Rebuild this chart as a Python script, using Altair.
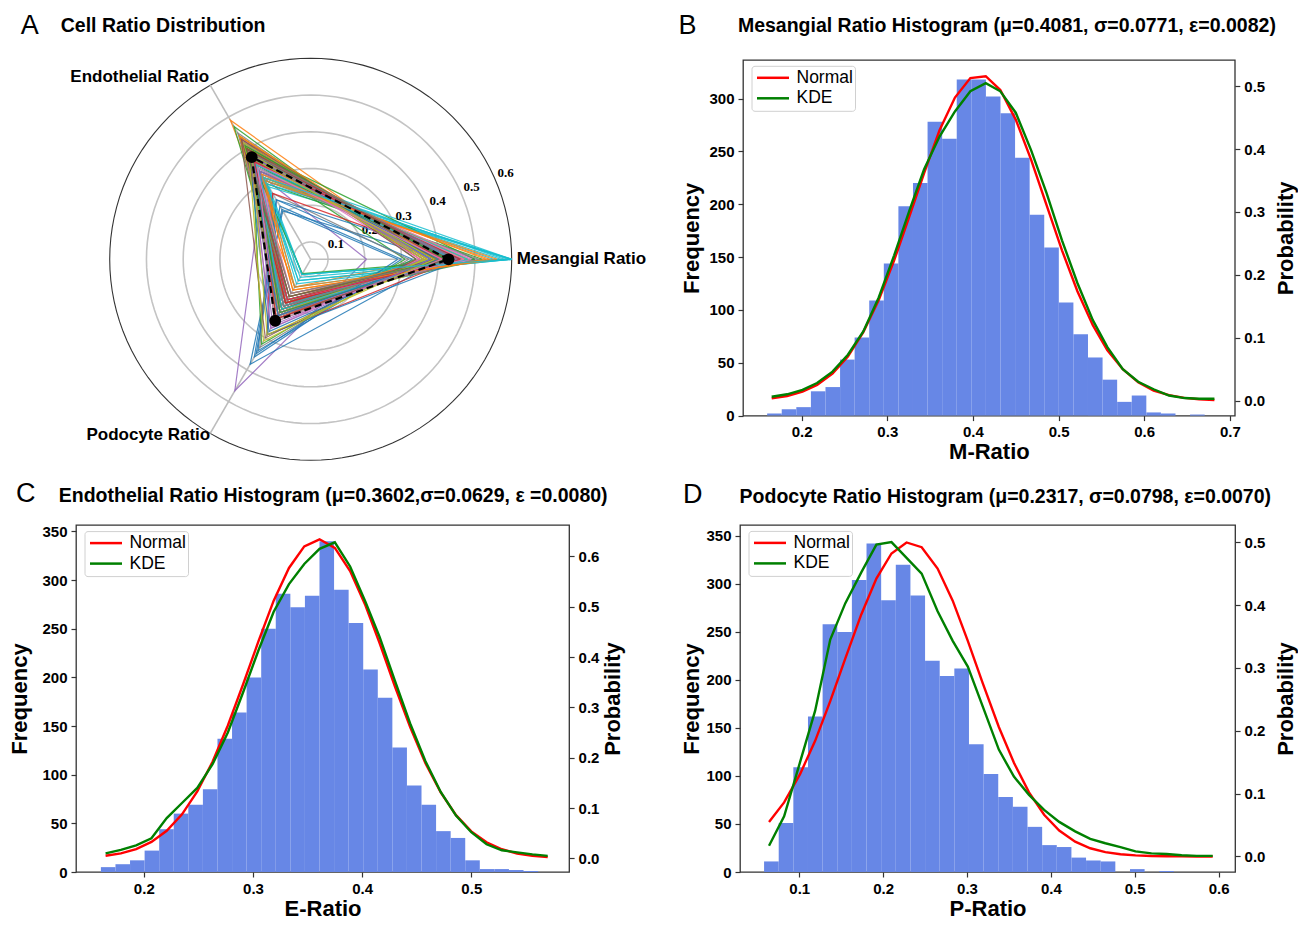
import altair as alt
import pandas as pd

FONT = "Liberation Sans"
SERIF = "Liberation Serif"
BAR_COLOR = "#6787e6"
SERIES = ["Normal", "KDE"]
SERIES_COLORS = ["#ff0000", "#008000"]

# ---------------- Panel A : radar ----------------
AXIS_NAMES = ["Mesangial Ratio", "Endothelial Ratio", "Podocyte Ratio"]
AXIS_ANGLES = [0, 120, 240]
RING_VALUES = [0.1, 0.2, 0.3, 0.4, 0.5]
RADIAL_TICKS = [0.1, 0.2, 0.3, 0.4, 0.5, 0.6]
R_INNER = 0.0529
R_OUTER = 0.6

SAMPLE_M = [0.41, 0.45, 0.38, 0.43, 0.205, 0.44, 0.47, 0.36, 0.41, 0.62,
            0.43, 0.39, 0.46, 0.35, 0.50, 0.42, 0.37, 0.44, 0.48, 0.60,
            0.30, 0.37, 0.52, 0.40, 0.38, 0.45, 0.43, 0.36, 0.47, 0.58,
            0.41, 0.44, 0.31, 0.40, 0.46, 0.37, 0.49, 0.41, 0.43, 0.55,
            0.33, 0.45, 0.34, 0.42, 0.48, 0.38, 0.44, 0.32, 0.36, 0.61,
            0.43, 0.41, 0.50, 0.45, 0.45, 0.39, 0.42, 0.51, 0.37, 0.57,
            0.47, 0.44, 0.40, 0.46, 0.38, 0.43, 0.35, 0.42, 0.48, 0.60,
            0.29, 0.39,
            0.40, 0.42, 0.44, 0.39, 0.46, 0.41, 0.43, 0.38, 0.45, 0.47,
            0.42, 0.40, 0.36, 0.44, 0.49, 0.41, 0.37, 0.43, 0.46, 0.53,
            0.39, 0.42, 0.45, 0.34, 0.41, 0.44, 0.40, 0.48, 0.38, 0.56,
            0.43, 0.41, 0.45, 0.39, 0.47, 0.42, 0.36, 0.44, 0.40, 0.54,
            0.42, 0.46, 0.38, 0.43, 0.41, 0.45, 0.39, 0.59]
SAMPLE_E = [0.36, 0.34, 0.39, 0.37, 0.31, 0.40, 0.33, 0.40, 0.35, 0.28,
            0.38, 0.42, 0.32, 0.44, 0.31, 0.36, 0.43, 0.37, 0.34, 0.30,
            0.22, 0.49, 0.29, 0.38, 0.41, 0.35, 0.33, 0.45, 0.31, 0.32,
            0.205, 0.36, 0.37, 0.40, 0.34, 0.42, 0.32, 0.38, 0.35, 0.31,
            0.24, 0.36, 0.47, 0.37, 0.33, 0.40, 0.34, 0.26, 0.41, 0.29,
            0.36, 0.38, 0.40, 0.26, 0.35, 0.42, 0.37, 0.30, 0.44, 0.30,
            0.24, 0.38, 0.35, 0.37, 0.36, 0.39, 0.38, 0.34, 0.36, 0.33,
            0.21, 0.44,
            0.37, 0.35, 0.39, 0.41, 0.36, 0.39, 0.34, 0.42, 0.37, 0.35,
            0.40, 0.36, 0.42, 0.33, 0.35, 0.37, 0.41, 0.38, 0.36, 0.32,
            0.40, 0.39, 0.33, 0.43, 0.36, 0.38, 0.42, 0.34, 0.39, 0.30,
            0.35, 0.40, 0.37, 0.43, 0.35, 0.38, 0.39, 0.35, 0.37, 0.31,
            0.41, 0.36, 0.38, 0.40, 0.34, 0.39, 0.37, 0.31]
SAMPLE_P = [0.23, 0.21, 0.23, 0.20, 0.466, 0.16, 0.20, 0.24, 0.24, 0.10,
            0.19, 0.19, 0.22, 0.21, 0.19, 0.22, 0.20, 0.19, 0.18, 0.12,
            0.36, 0.14, 0.19, 0.22, 0.21, 0.20, 0.24, 0.19, 0.22, 0.10,
            0.383, 0.20, 0.32, 0.20, 0.20, 0.21, 0.19, 0.21, 0.22, 0.14,
            0.34, 0.19, 0.19, 0.21, 0.19, 0.22, 0.22, 0.33, 0.23, 0.11,
            0.21, 0.21, 0.098, 0.29, 0.20, 0.19, 0.21, 0.19, 0.19, 0.13,
            0.29, 0.18, 0.25, 0.17, 0.26, 0.18, 0.27, 0.24, 0.16, 0.12,
            0.35, 0.17,
            0.23, 0.23, 0.17, 0.20, 0.18, 0.20, 0.23, 0.20, 0.18, 0.18,
            0.18, 0.24, 0.22, 0.23, 0.16, 0.22, 0.22, 0.19, 0.18, 0.15,
            0.21, 0.19, 0.22, 0.30, 0.23, 0.18, 0.18, 0.18, 0.28, 0.14,
            0.22, 0.19, 0.18, 0.18, 0.18, 0.20, 0.31, 0.21, 0.23, 0.15,
            0.17, 0.18, 0.27, 0.17, 0.25, 0.16, 0.29, 0.10]
MEAN_VALUES = [0.428, 0.374, 0.246]

# ---------------- Panel B : Mesangial ----------------
B_EDGE0, B_BINW = 0.1597, 0.01703
B_COUNTS = [2, 6, 8, 23, 27, 53, 74, 109, 144, 198, 220, 278, 262, 318, 318,
            302, 286, 244, 190, 159, 107, 77, 55, 34, 13, 19, 3, 2, 0, 1]
B_CX = [0.165, 0.183, 0.201, 0.218, 0.236, 0.254, 0.272, 0.290, 0.308, 0.326,
        0.343, 0.361, 0.379, 0.397, 0.415, 0.432, 0.450, 0.468, 0.486, 0.504,
        0.522, 0.540, 0.557, 0.575, 0.593, 0.611, 0.629, 0.647, 0.664, 0.682]
B_NORMAL = [0.0036, 0.0073, 0.0141, 0.0248, 0.0429, 0.0702, 0.109, 0.160, 0.223, 0.294,
            0.362, 0.430, 0.482, 0.513, 0.516, 0.494, 0.447, 0.383, 0.311, 0.239,
            0.174, 0.120, 0.080, 0.050, 0.029, 0.016, 0.0086, 0.0043, 0.0021, 0.0009]
B_KDE = [0.006, 0.010, 0.017, 0.028, 0.046, 0.073, 0.110, 0.164, 0.231, 0.303,
         0.368, 0.420, 0.460, 0.492, 0.505, 0.492, 0.458, 0.398, 0.330, 0.255,
         0.187, 0.128, 0.085, 0.050, 0.030, 0.018, 0.008, 0.004, 0.003, 0.003]

# ---------------- Panel C : Endothelial ----------------
C_EDGE0, C_BINW = 0.1607, 0.01335
C_COUNTS = [5, 8, 12, 22, 44, 60, 69, 85, 137, 164, 200, 250, 286, 272, 284,
            340, 290, 256, 208, 179, 128, 89, 69, 42, 35, 12, 3, 3, 2, 1]
C_CX = [0.165, 0.179, 0.193, 0.207, 0.221, 0.235, 0.249, 0.263, 0.277, 0.291,
        0.305, 0.319, 0.333, 0.347, 0.361, 0.375, 0.389, 0.403, 0.416, 0.430,
        0.444, 0.458, 0.472, 0.486, 0.500, 0.514, 0.528, 0.542, 0.556, 0.570]
C_NORMAL = [0.0051, 0.0100, 0.0185, 0.0326, 0.0548, 0.0875, 0.133, 0.192, 0.264, 0.346,
            0.431, 0.512, 0.577, 0.620, 0.634, 0.617, 0.571, 0.503, 0.428, 0.342,
            0.261, 0.189, 0.131, 0.0858, 0.0536, 0.0319, 0.0181, 0.0097, 0.0050, 0.0024]
C_KDE = [0.010, 0.017, 0.026, 0.040, 0.080, 0.110, 0.140, 0.187, 0.250, 0.330,
         0.413, 0.490, 0.545, 0.585, 0.615, 0.628, 0.580, 0.510, 0.440, 0.353,
         0.268, 0.193, 0.132, 0.085, 0.052, 0.028, 0.016, 0.012, 0.008, 0.005]

# ---------------- Panel D : Podocyte ----------------
D_EDGE0, D_BINW = 0.0581, 0.01745
D_COUNTS = [11, 51, 109, 162, 258, 250, 304, 342, 283, 320, 288, 220, 204, 212, 133,
            102, 78, 68, 47, 28, 26, 15, 12, 11, 0, 3, 0, 1, 0, 0]
D_CX = [0.064, 0.082, 0.101, 0.119, 0.137, 0.155, 0.174, 0.192, 0.210, 0.228,
        0.246, 0.265, 0.283, 0.301, 0.319, 0.338, 0.356, 0.374, 0.392, 0.410,
        0.429, 0.447, 0.465, 0.483, 0.501, 0.520, 0.538, 0.556, 0.574, 0.593]
D_NORMAL = [0.055, 0.086, 0.131, 0.184, 0.247, 0.315, 0.385, 0.442, 0.482, 0.4995,
            0.492, 0.458, 0.407, 0.343, 0.275, 0.206, 0.149, 0.102, 0.0664, 0.0412,
            0.0235, 0.0131, 0.0070, 0.0035, 0.0017, 0.0007, 0.0003, 0.0001, 0.0, 0.0]
D_KDE = [0.017, 0.064, 0.150, 0.232, 0.345, 0.403, 0.452, 0.496, 0.500, 0.475,
         0.450, 0.390, 0.343, 0.302, 0.238, 0.170, 0.127, 0.098, 0.074, 0.055,
         0.040, 0.028, 0.021, 0.015, 0.008, 0.005, 0.004, 0.002, 0.001, 0.001]

# =====================================================================
R_EXPR = f"(min(datum.v, {R_OUTER}) - {R_INNER}) / ({R_OUTER} - {R_INNER})"


def polar(chart):
    return chart.transform_calculate(r=R_EXPR).transform_calculate(
        x="datum.r * cos(datum.ang * PI / 180)",
        y="datum.r * sin(datum.ang * PI / 180)",
    )


def text_layer(txt, x, y, size, weight="normal", align="center"):
    return alt.Chart(pd.DataFrame({"t": [txt]})).mark_text(
        font=FONT, fontSize=size, fontWeight=weight, align=align, baseline="middle",
        color="black").encode(x=alt.value(x), y=alt.value(y), text="t:N")


def legend_layers(top):
    one = pd.DataFrame({"k": [0]})
    layers = [alt.Chart(one).mark_rect(fill="white", fillOpacity=0.85, stroke="#d0d0d0",
                                       strokeWidth=1, cornerRadius=3).encode(
        x=alt.value(9), x2=alt.value(112.5), y=alt.value(top), y2=alt.value(top + 45))]
    for name, col, yy in zip(SERIES, SERIES_COLORS, [top + 11.5, top + 32]):
        layers.append(alt.Chart(one).mark_rule(color=col, strokeWidth=2.5).encode(
            x=alt.value(14), x2=alt.value(46), y=alt.value(yy)))
        layers.append(text_layer(name, 53.5, yy, 17.5, align="left"))
    return layers


XS_A = alt.Scale(domain=[-1.1677, 1.7463], nice=False, zero=False)
YS_A = alt.Scale(domain=[-0.9587, 0.9915], nice=False, zero=False)
XA = alt.X("x:Q", scale=XS_A, axis=None)
YA = alt.Y("y:Q", scale=YS_A, axis=None)

sample_rows = []
for i, (m, e, p) in enumerate(zip(SAMPLE_M, SAMPLE_E, SAMPLE_P)):
    for step, (ang, v) in enumerate([(0, m), (120, e), (240, p), (360, m)]):
        sample_rows.append({"sample": i, "step": step, "ang": ang, "v": v, "col": i % 10})
samples_df = pd.DataFrame(sample_rows)

mean_rows = [{"step": s, "ang": a, "v": v}
             for s, (a, v) in enumerate(zip(AXIS_ANGLES + [360], MEAN_VALUES + [MEAN_VALUES[0]]))]
mean_df = pd.DataFrame(mean_rows)
mean_pts = pd.DataFrame({"ang": AXIS_ANGLES, "v": MEAN_VALUES})

ring_rows = []
for rv in RING_VALUES + [R_OUTER]:
    for a in range(0, 361, 3):
        ring_rows.append({"ring": rv, "ang": a, "v": rv, "outer": rv == R_OUTER})
ring_df = pd.DataFrame(ring_rows)

spoke_rows = []
for name, a in zip(AXIS_NAMES, AXIS_ANGLES):
    spoke_rows.append({"name": name, "ang": a, "v": R_INNER, "step": 0})
    spoke_rows.append({"name": name, "ang": a, "v": R_OUTER, "step": 1})
spoke_df = pd.DataFrame(spoke_rows)

tick_df = pd.DataFrame({"v": RADIAL_TICKS, "ang": [22.5] * len(RADIAL_TICKS),
                        "t": [f"{t:.1f}" for t in RADIAL_TICKS]})
label_df = pd.DataFrame({"name": AXIS_NAMES, "ang": AXIS_ANGLES, "v": [R_OUTER] * 3})

rings = polar(alt.Chart(ring_df)).transform_filter("!datum.outer").mark_line(
    color="#c4c4c4", strokeWidth=1.6).encode(x=XA, y=YA, detail="ring:N", order="ang:Q")
outer = polar(alt.Chart(ring_df)).transform_filter("datum.outer").mark_line(
    color="#333333", strokeWidth=1.1).encode(x=XA, y=YA, order="ang:Q")
spokes = polar(alt.Chart(spoke_df)).mark_line(color="#bdbdbd", strokeWidth=1.6).encode(
    x=XA, y=YA, detail="name:N", order="step:Q")
tick_under = polar(alt.Chart(tick_df)).transform_filter("datum.v < 0.25 && datum.v > 0.15").mark_text(
    align="left", baseline="bottom", dx=1, dy=-2, font=SERIF, fontWeight="bold", fontSize=13,
    color="black").encode(x=XA, y=YA, text="t:N")
tick_over = polar(alt.Chart(tick_df)).transform_filter("datum.v < 0.15 || datum.v > 0.25").mark_text(
    align="left", baseline="bottom", dx=1, dy=-2, font=SERIF, fontWeight="bold", fontSize=13,
    color="black").encode(x=XA, y=YA, text="t:N")
lines = polar(alt.Chart(samples_df)).mark_line(strokeWidth=1.2, opacity=0.85).encode(
    x=XA, y=YA, detail="sample:N", order="step:Q",
    color=alt.Color("col:N", scale=alt.Scale(scheme="category10"), legend=None))
mean_line = polar(alt.Chart(mean_df)).mark_line(color="black", strokeWidth=2.2,
                                                 strokeDash=[7, 4]).encode(x=XA, y=YA, order="step:Q")
mean_dots = polar(alt.Chart(mean_pts)).mark_point(filled=True, color="black", size=140,
                                                   opacity=1).encode(x=XA, y=YA)
lab_m = polar(alt.Chart(label_df)).transform_filter("datum.ang == 0").mark_text(
    align="left", baseline="middle", dx=5, font=FONT, fontWeight="bold", fontSize=17,
    color="black").encode(x=XA, y=YA, text="name:N")
lab_e = polar(alt.Chart(label_df)).transform_filter("datum.ang == 120").mark_text(
    align="right", baseline="middle", dx=-1, dy=-8, font=FONT, fontWeight="bold", fontSize=17,
    color="black").encode(x=XA, y=YA, text="name:N")
lab_p = polar(alt.Chart(label_df)).transform_filter("datum.ang == 240").mark_text(
    align="right", baseline="middle", dx=0, dy=2, font=FONT, fontWeight="bold", fontSize=17,
    color="black").encode(x=XA, y=YA, text="name:N")

radar = alt.layer(
    rings, outer, spokes, tick_under, lines, mean_line, mean_dots, tick_over,
    lab_m, lab_e, lab_p,
    text_layer("A", -46.3, -33.7, 27),
    text_layer("Cell Ratio Distribution", -15.3, -33.9, 19.5, "bold", "left"),
).properties(width=585.7, height=392, view=alt.ViewBackground(strokeOpacity=0))


def hist_panel(edge0, binw, counts, cx, normal, kde, xdom, xticks, ydom, yticks,
               pdom, pticks, xtitle, title, letter, w, h, ftitle_pad, ptitle_pad, lxy, txy,
               legend_top):
    bars = pd.DataFrame({"x0": [edge0 + k * binw for k in range(len(counts))], "count": counts})
    bars["x1"] = bars["x0"] + binw
    bars["base"] = 0
    curves = pd.DataFrame({"x": list(cx) * 2, "p": list(normal) + list(kde),
                           "series": [SERIES[0]] * len(cx) + [SERIES[1]] * len(cx)})
    xs = alt.Scale(domain=xdom, nice=False, zero=False)
    bar_layer = alt.Chart(bars).mark_rect(color=BAR_COLOR).encode(
        x=alt.X("x0:Q", scale=xs, axis=alt.Axis(values=xticks, format=".1f", title=xtitle,
                                                titlePadding=2)),
        x2="x1:Q",
        y=alt.Y("count:Q", scale=alt.Scale(domain=ydom, nice=False),
                axis=alt.Axis(values=yticks, title="Frequency", orient="left",
                              titlePadding=ftitle_pad)),
        y2="base:Q",
    )
    line_layer = alt.Chart(curves).mark_line(strokeWidth=2.4).encode(
        x=alt.X("x:Q", scale=xs),
        y=alt.Y("p:Q", scale=alt.Scale(domain=pdom, nice=False, zero=False),
                axis=alt.Axis(values=pticks, format=".1f", title="Probability", orient="right",
                              titleAngle=270, titlePadding=ptitle_pad)),
        color=alt.Color("series:N", scale=alt.Scale(domain=SERIES, range=SERIES_COLORS),
                        legend=None),
        detail="series:N",
    )
    return alt.layer(
        bar_layer, line_layer, *legend_layers(legend_top),
        text_layer(letter, lxy[0], lxy[1], 27),
        text_layer(title, txy[0], txy[1], 19.5, "bold"),
    ).resolve_scale(y="independent").properties(width=w, height=h)


hist_b = hist_panel(B_EDGE0, B_BINW, B_COUNTS, B_CX, B_NORMAL, B_KDE,
                    [0.1315, 0.7058], [0.2, 0.3, 0.4, 0.5, 0.6, 0.7], [0, 336.5],
                    [0, 50, 100, 150, 200, 250, 300], [-0.0239, 0.5418],
                    [0.0, 0.1, 0.2, 0.3, 0.4, 0.5], "M-Ratio",
                    "Mesangial Ratio Histogram (μ=0.4081, σ=0.0771, ε=0.0082)", "B",
                    491.8, 355.6, 5, 33, (-55.5, -33.9), (263.9, -33.9), 6.3)
hist_c = hist_panel(C_EDGE0, C_BINW, C_COUNTS, C_CX, C_NORMAL, C_KDE,
                    [0.1379, 0.5896], [0.2, 0.3, 0.4, 0.5], [0, 356.6],
                    [0, 50, 100, 150, 200, 250, 300, 350], [-0.0271, 0.6624],
                    [0.0, 0.1, 0.2, 0.3, 0.4, 0.5, 0.6], "E-Ratio",
                    "Endothelial Ratio Histogram (μ=0.3602,σ=0.0629, ε =0.0080)", "C",
                    493.1, 347, 10, 26, (-50.3, -31), (257.2, -29), 6.6)
hist_d = hist_panel(D_EDGE0, D_BINW, D_COUNTS, D_CX, D_NORMAL, D_KDE,
                    [0.0294, 0.6197], [0.1, 0.2, 0.3, 0.4, 0.5, 0.6], [0, 361.3],
                    [0, 50, 100, 150, 200, 250, 300, 350], [-0.0247, 0.5273],
                    [0.0, 0.1, 0.2, 0.3, 0.4, 0.5], "P-Ratio",
                    "Podocyte Ratio Histogram (μ=0.2317, σ=0.0798, ε=0.0070)", "D",
                    495.1, 347, 2, 33, (-47.2, -30), (265.3, -28), 6.4)

row1 = alt.hconcat(radar, hist_b, spacing=15).resolve_scale(color="independent")
row2 = alt.hconcat(hist_c, hist_d, spacing=55).resolve_scale(color="independent")

chart = alt.vconcat(row1, row2, spacing=15).resolve_scale(color="independent").properties(
    padding={"top": 3, "left": 0, "right": 0, "bottom": 0},
    background="white",
).configure_axis(
    labelFont=FONT, titleFont=FONT, labelFontSize=15, labelFontWeight="bold",
    titleFontSize=22, titleFontWeight="bold", grid=False, domain=False, tickSize=5,
    tickColor="#333333", tickWidth=1.2, labelColor="black", titleColor="black", labelPadding=4,
).configure_view(stroke="#333333", strokeWidth=1.3)

chart.save("out.html", embed_options={"renderer": "svg", "actions": False})
